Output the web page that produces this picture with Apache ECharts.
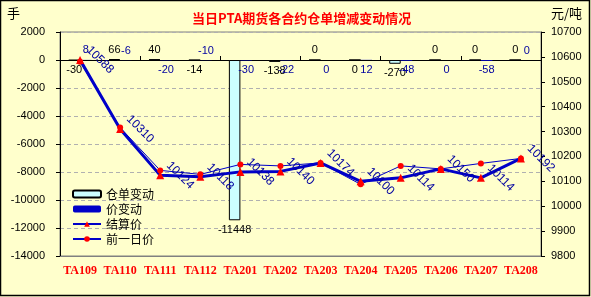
<!DOCTYPE html>
<html><head><meta charset="utf-8">
<script src="https://cdn.jsdelivr.net/npm/echarts@6/dist/echarts.min.js"></script>
<style>html,body{margin:0;padding:0;background:#FFFFCC}#c{width:591px;height:297px}</style>
</head><body><div id="c"></div>
<script>
// ---- data ----
const categories = ['TA109','TA110','TA111','TA112','TA201','TA202','TA203','TA204','TA205','TA206','TA207','TA208'];
const stockChange = [-30, 66, 40, -14, -11448, -138, 0, 0, -270, 0, 0, 0];
const priceChange = [8, -6, -20, -10, -30, -22, 0, 12, -48, 0, -58, 0];
const settlePrice = [10588, 10310, 10124, 10118, 10138, 10140, 10174, 10100, 10114, 10150, 10114, 10192];
const prevPrice = [10580, 10316, 10144, 10128, 10168, 10162, 10174, 10088, 10162, 10150, 10172, 10192];
const leftMin = -14000, leftMax = 2000, leftStep = 2000;
const rightMin = 9800, rightMax = 10700, rightStep = 100;
const seriesNames = ['仓单变动','价变动','结算价','前一日价'];
const titleText = '当日PTA期货各合约仓单增减变动情况';
const leftUnit = '手', rightUnit = '元/吨';

// ---- label placement (style) ----
const stockLabelPos = ['bottom','top','top','bottom','bottom','bottom','top','bottom','bottom','top','top','top'];
const priceLabelPos = ['top','top','bottom','top','bottom','bottom','bottom','bottom','bottom','bottom','bottom','top'];

const chart = echarts.init(document.getElementById('c'), null, {renderer:'canvas'});
const sans = 'Liberation Sans';
const cjk = 'Noto Sans CJK SC';
const navy = '#0000C8';
const plain = v => String(v);

const option = {
  animation: false,
  backgroundColor: '#FFFFCC',
  title: {
    text: titleText, left: 187, top: 7,
    textStyle: {color:'#FF0000', fontSize:13, fontWeight:'bold', fontFamily:cjk}
  },
  graphic: [
    {type:'rect', shape:{x:0.5, y:0.5, width:589, height:295}, style:{fill:null, stroke:'#000', lineWidth:1.5}, silent:true},
    {type:'text', left:7, top:7, style:{text:leftUnit, font:'13px "Noto Sans CJK SC"', fill:'#000'}},
    {type:'text', left:551, top:7, style:{text:rightUnit, font:'13px "Noto Sans CJK SC"', fill:'#000'}}
  ],
  legend: {
    orient:'vertical', left:67, top:183, itemWidth:28, itemHeight:7, itemGap:3,
    data: seriesNames,
    textStyle:{fontSize:12, fontFamily:cjk, color:'#000'}
  },
  grid: {left:60, right:50, top:32, bottom:41, show:true, borderColor:'#808080', borderWidth:1, backgroundColor:'#FFFFCC'},
  xAxis: [
    {type:'category', data:categories, position:'bottom',
     axisLine:{onZero:false, lineStyle:{color:'#808080'}}, axisTick:{show:false},
     axisLabel:{color:'#FF0000', fontWeight:'bold', fontFamily:'Liberation Serif', fontSize:12, margin:9, interval:0}},
    {type:'category', data:categories, position:'bottom',
     axisLine:{onZero:true, onZeroAxisIndex:0, lineStyle:{color:'#000'}},
     axisTick:{show:true, inside:true, length:4, lineStyle:{color:'#000'}},
     axisLabel:{show:false}}
  ],
  yAxis: [
    {type:'value', min:leftMin, max:leftMax, interval:leftStep, position:'left',
     axisLine:{show:true, lineStyle:{color:'#000'}}, axisTick:{show:true, length:4, lineStyle:{color:'#000'}},
     axisLabel:{color:'#000', fontSize:11, fontFamily:sans, margin:15, formatter:plain},
     splitLine:{show:true, lineStyle:{color:'#B0B0B0', type:[4,3]}}},
    {type:'value', min:rightMin, max:rightMax, interval:rightStep, position:'right',
     axisLine:{show:true, lineStyle:{color:'#000'}}, axisTick:{show:true, length:4, lineStyle:{color:'#000'}},
     axisLabel:{color:'#000', fontSize:11, fontFamily:sans, margin:10, formatter:plain},
     splitLine:{show:false}}
  ],
  series: [
    {name:seriesNames[0], type:'bar', xAxisIndex:0, yAxisIndex:0, barWidth:11.5, barGap:'0%',
     itemStyle:{color:'#CCFFFF', borderColor:'#000', borderWidth:1},
     label:{show:true, color:'#000', fontSize:11, fontFamily:sans, distance:4},
     data: stockChange.map((v,i)=>({value:v, label:{position:stockLabelPos[i]}}))},
    {name:seriesNames[1], type:'bar', xAxisIndex:0, yAxisIndex:0, barWidth:11.5,
     itemStyle:{color:navy},
     label:{show:true, color:'#0000A0', fontSize:11, fontFamily:sans, distance:4},
     data: priceChange.map((v,i)=>({value:v, label:{position:priceLabelPos[i]}}))},
    {name:seriesNames[2], type:'line', xAxisIndex:0, yAxisIndex:1, z:5,
     symbol:'triangle', symbolSize:8, itemStyle:{color:'#FF0000'},
     lineStyle:{color:navy, width:3},
     label:{show:true, position:'right', rotate:-45, align:'center', verticalAlign:'middle', distance:16,
            color:'#0000A0', fontSize:12, fontFamily:sans},
     data: settlePrice},
    {name:seriesNames[3], type:'line', xAxisIndex:0, yAxisIndex:1, z:5,
     symbol:'circle', symbolSize:6, itemStyle:{color:'#FF0000'},
     lineStyle:{color:navy, width:1},
     data: prevPrice}
  ]
};
chart.setOption(option);
</script></body></html>
